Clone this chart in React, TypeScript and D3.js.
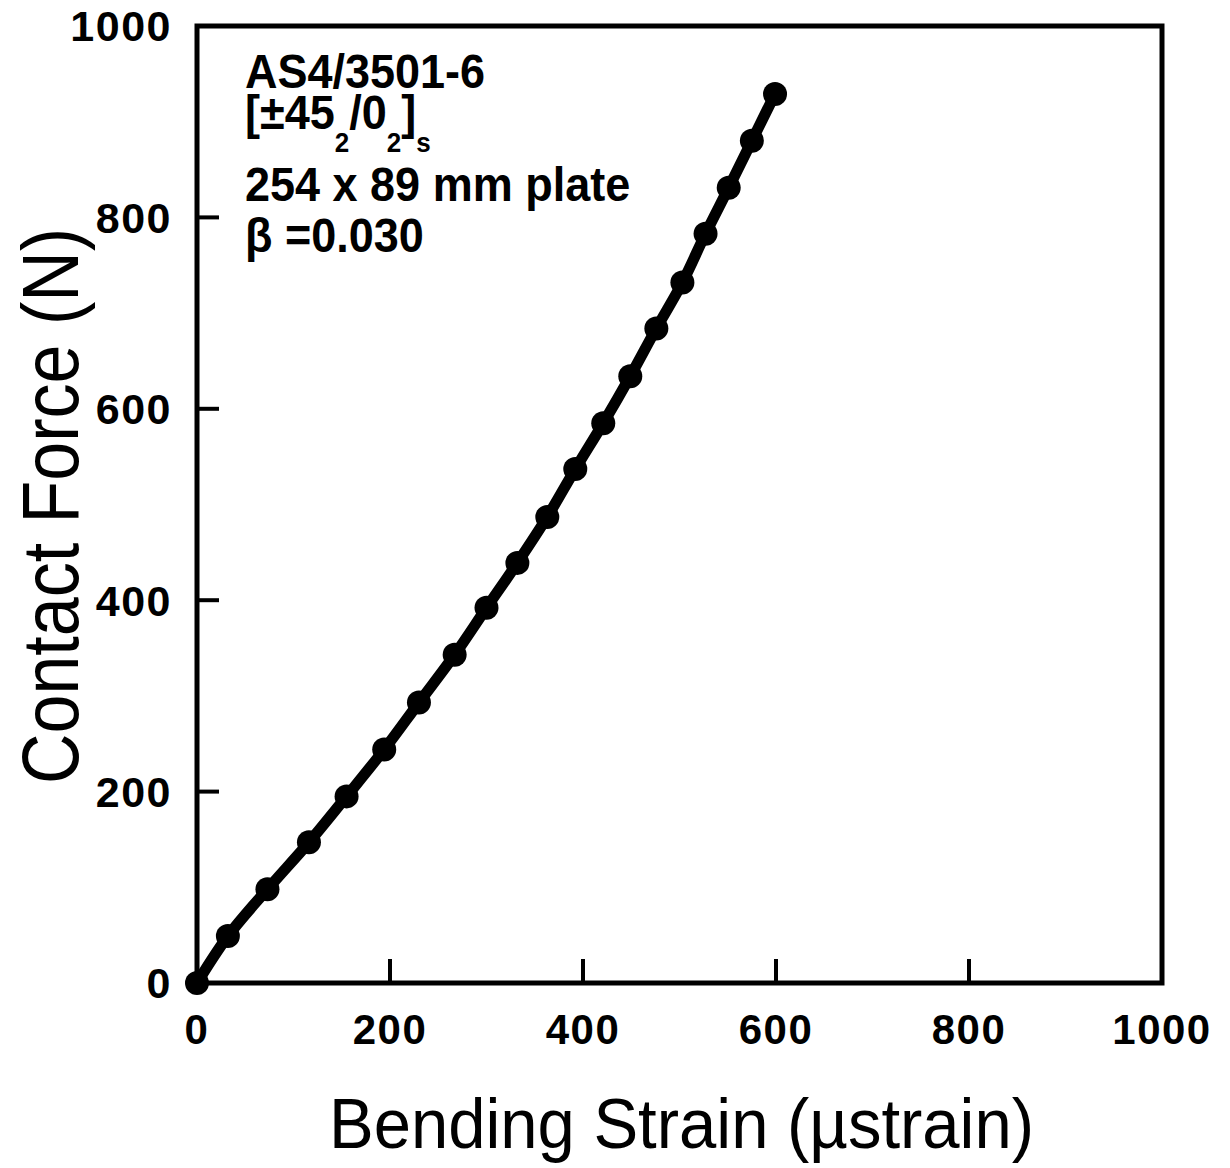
import React from 'react';
import * as d3 from 'd3';

// values
const strain = [0, 32, 73, 116, 155, 194, 230, 267, 300, 332, 363, 392, 421, 449, 476, 503, 527, 551, 575, 599];
const force = [0, 49, 98, 147, 195, 244, 293, 343, 392, 439, 487, 537, 585, 634, 684, 732, 783, 831, 880, 929];
const xTicks = [0, 200, 400, 600, 800, 1000];
const yTicks = [0, 200, 400, 600, 800, 1000];

const W = 1230;
const H = 1168;
const left = 197, right = 1162, top = 26, bottom = 983;
const font = '"Liberation Sans", Arial, Helvetica, sans-serif';

export default function App() {
  const x = d3.scaleLinear().domain([0, 1000]).range([left, right]);
  const y = d3.scaleLinear().domain([0, 1000]).range([bottom, top]);
  const pts = strain.map((s, i) => [s, force[i]] as [number, number]);
  const path = d3.line<[number, number]>()
    .x(d => x(d[0]))
    .y(d => y(d[1]))
    .curve(d3.curveCatmullRom)(pts);

  const sub = {fontSize: 26, dy: 21};
  const note = (yy: number) => `translate(245,${yy}) scale(1,1.08)`;

  return (
    <svg width={W} height={H} style={{position: 'absolute', left: 0, top: 0, background: '#fff'}} fontFamily={font}>
      {/* inward ticks */}
      {yTicks.slice(1, -1).map(t => (
        <line key={'yt' + t} x1={left} x2={left + 22} y1={y(t)} y2={y(t)} stroke="#000" strokeWidth={4} />
      ))}
      {xTicks.slice(1, -1).map(t => (
        <line key={'xt' + t} x1={x(t)} x2={x(t)} y1={bottom} y2={bottom - 24} stroke="#000" strokeWidth={4} />
      ))}
      <rect x={left} y={top} width={right - left} height={bottom - top} fill="none" stroke="#000" strokeWidth={5} />

      {yTicks.map(t => (
        <text key={'yl' + t} x={172} y={y(t)} dy="0.36em" textAnchor="end" fontSize={43} letterSpacing={1.5} fontWeight="bold">{t}</text>
      ))}
      {xTicks.map(t => (
        <text key={'xl' + t} x={x(t)} y={1044} textAnchor="middle" fontSize={42} letterSpacing={1.5} fontWeight="bold">{t}</text>
      ))}

      <text transform={`translate(${(left + right) / 2 + 2},1148) scale(1,1.06)`} textAnchor="middle" fontSize={67}>Bending Strain (µstrain)</text>
      <text transform={`translate(78,506) rotate(-90) scale(1,1.15)`} textAnchor="middle" fontSize={70}>Contact Force (N)</text>

      <g fontSize={45} fontWeight="bold">
        <text transform={note(88)}>AS4/3501-6</text>
        <text transform={note(129)}>
          [±45<tspan fontSize={sub.fontSize} dy={sub.dy}>2</tspan>
          <tspan dy={-sub.dy}>/0</tspan>
          <tspan fontSize={sub.fontSize} dy={sub.dy}>2</tspan>
          <tspan dy={-sub.dy}>]</tspan>
          <tspan fontSize={sub.fontSize} dy={sub.dy}>s</tspan>
        </text>
        <text transform={note(201)}>254 x 89 mm plate</text>
        <text transform={note(252)}>β =0.030</text>
      </g>

      <path d={path ?? ''} fill="none" stroke="#000" strokeWidth={11} strokeLinejoin="round" strokeLinecap="round" />
      {pts.map((d, i) => (
        <circle key={i} cx={x(d[0])} cy={y(d[1])} r={12} fill="#000" />
      ))}
    </svg>
  );
}
